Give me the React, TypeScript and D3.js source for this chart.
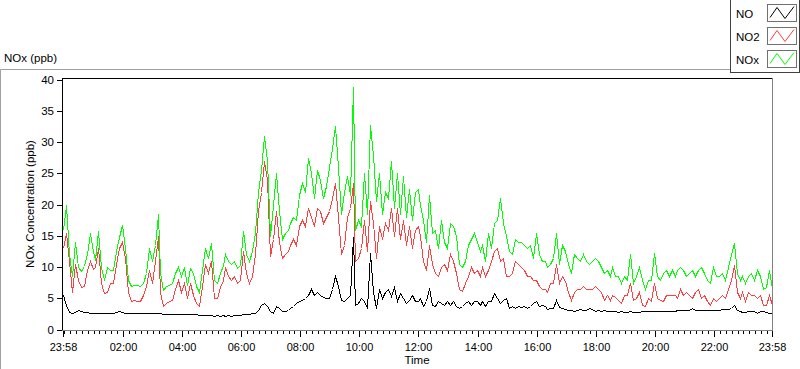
import * as d3 from "d3";

// readings every 6 minutes, starting 23:58 (one row per hour)
const SAMPLE_MINUTES = 6;

const noxValues = [
  16, 20, 12, 8.5, 14, 10, 9.3, 10.2, 12, 15.5,
  12.5, 11.2, 15.8, 10, 8, 10, 9.5, 9.5, 12.5, 14.8,
  16.8, 13, 8, 7, 7.2, 7.2, 7, 7.5, 9, 13,
  11, 13.5, 18.5, 9, 6.3, 7, 7.2, 7.5, 9, 10,
  8.5, 10, 7.2, 9.8, 9, 7, 6, 9.5, 13, 11.5,
  13.8, 8, 7.5, 9, 10.3, 12, 11, 10.5, 11, 9.8,
  10.3, 15.8, 12, 11, 12.5, 15.5, 22, 25.5, 31, 27,
  15, 20, 25, 19, 14.5, 15.5, 16, 17, 18, 17.5,
  21.5, 23.5, 22, 27.5, 25, 21, 25.5, 24, 21, 23,
  26, 29, 32.5, 26, 18.5, 22, 24.5, 21.5, 38.8, 16,
  17.5, 16.5, 25, 18.5, 32.7, 28, 20.5, 25, 18.5, 22,
  21, 27, 19.5, 25, 18.5, 24.5, 18, 22.5, 17.5, 22,
  22.5, 20, 17.5, 14, 21.5, 15.5, 16, 13, 17.5, 14,
  13, 17, 16.5, 15, 10.5, 10, 11, 13.5, 14.5, 15.5,
  14, 12.5, 13.5, 11, 15.5, 13, 17, 17.5, 21, 17,
  15, 12.5, 12, 14.5, 14, 14, 13.5, 13, 13.5, 11.5,
  15.5, 12, 11, 11, 10, 10.5, 11.5, 15.5, 10.5, 13.5,
  12.5, 10.5, 9, 12, 11.5, 11, 12, 11, 10.5, 11,
  11.5, 11, 10, 9, 9.5, 8.5, 10, 8.5, 8.5, 7.5,
  8.5, 8, 12, 7.5, 8.5, 10, 8, 6.5, 8, 8,
  12.3, 8.5, 8, 9, 9.5, 8.5, 9.5, 8.5, 9.5, 10,
  9.5, 8.5, 9, 9.5, 8.5, 9.5, 10, 9, 8, 7.5,
  10, 8.5, 8.5, 9, 8, 10, 12, 13.8, 9, 8,
  8.5, 7.5, 8.5, 9, 8, 9.5, 8.5, 6.5, 6.8, 9.5,
  6.5,
];

const no2Values = [
  13, 15.5, 11, 6, 10.5, 8, 6.8, 7, 9.5, 11,
  9.7, 10, 13, 7.5, 5.8, 6, 7.5, 7.5, 10.5, 13,
  14, 11.5, 6, 4.6, 4.8, 4.6, 4.6, 5.5, 7, 9.5,
  7.5, 11, 15, 6, 3.8, 4.2, 4.5, 4.8, 6.5, 8,
  6, 7.5, 5, 7.5, 5.5, 4.3, 3.8, 7, 10.5, 9,
  11, 5, 5, 6.8, 8, 10, 8.5, 8, 8.5, 7.5,
  8, 12.5, 9, 7.5, 8.5, 12, 19, 22, 27, 24,
  11.8, 14.5, 19, 14, 11.5, 12, 12.5, 13.5, 14.5, 13.5,
  16.5, 17.5, 16.5, 19.5, 18, 16.5, 19.5, 19, 17, 18,
  19, 21, 23.5, 18, 12, 13.5, 18, 19.5, 23.5, 11,
  11.5, 13, 17.5, 12.5, 20.5, 17, 11.5, 16.5, 14.5, 17,
  16, 19.5, 15, 19.5, 14.5, 17.5, 13.5, 16.5, 13, 16,
  16.5, 15, 11, 9.5, 13.5, 10.5, 9, 8.5, 10, 10.5,
  9.5, 12, 11, 9, 6.5, 6.2, 7.5, 8.5, 10, 9,
  9.5, 8.5, 10, 8.5, 9.5, 11, 12.5, 13, 11, 11.5,
  8.5, 8.5, 9, 11, 10.5, 10, 9.5, 8.5, 8.5, 8,
  8, 7, 6.5, 6.5, 6, 7.5, 7.5, 10.5, 7.5, 8.5,
  7.8, 6, 4.8, 6, 6.5, 6.5, 7, 6.5, 6.5, 6.5,
  7, 6.5, 6, 4.8, 5.5, 4.8, 5.5, 5.2, 4.8, 4.2,
  5.5, 5.5, 7.5, 4.8, 5, 6, 4, 3.8, 5, 4.5,
  7.5, 5, 4.8, 4.5, 5.5, 5.5, 5.5, 5.5, 5, 6.5,
  5.5, 6, 5.5, 5, 6, 6.5, 5, 5.5, 4.5, 4,
  5, 4.5, 5, 5.5, 5, 6.5, 8, 10.3, 6, 5,
  6, 4.5, 6, 5.5, 5.5, 5, 5.5, 4, 4, 5.5,
  4,
];

const noValues = [
  5.5, 4, 2.8, 2.7, 2.8, 3.1, 3, 2.8, 2.8, 2.7,
  2.7, 2.6, 2.7, 2.7, 2.6, 2.6, 2.7, 2.7, 2.8, 3.0,
  2.8, 2.6, 2.6, 2.6, 2.6, 2.6, 2.6, 2.6, 2.7, 2.6,
  2.6, 2.7, 2.7, 2.6, 2.5, 2.5, 2.5, 2.5, 2.5, 2.5,
  2.5, 2.5, 2.4, 2.4, 2.4, 2.4, 2.3, 2.3, 2.3, 2.3,
  2.3, 2.2, 2.3, 2.2, 2.3, 2.2, 2.3, 2.2, 2.3, 2.3,
  2.3, 2.4, 2.4, 2.5, 2.6, 2.6, 3.2, 4, 4.2, 3.8,
  3, 2.6, 3.8, 3.5, 2.9, 3, 3.2, 3.5, 3.8, 4.2,
  4.5, 4.8, 5, 5.5, 6.5, 5.5, 6, 5.5, 5.2, 5,
  5, 6.5, 8.5, 7, 4.8, 4.5, 5, 5.5, 14.8, 4,
  4.2, 5, 4.5, 3.5, 12.2, 6, 3.5, 6.5, 5, 6,
  6.5, 5.3, 6.8, 4.5, 5.8, 5, 4.3, 4.8, 5.5, 4.5,
  4.5, 5, 3.8, 4.5, 6.7, 4, 3.8, 4.5, 4.2, 4,
  4.5, 4, 4.5, 3.8, 3.5, 3.7, 4.2, 4.5, 4, 4.5,
  4.5, 4, 4.5, 3.8, 4.5, 4.5, 5.8, 5, 4.2, 4.8,
  5, 3.5, 3.8, 3.5, 3.8, 3.6, 3.8, 3.5, 3.8, 4.2,
  4.5, 3.8, 3.9, 3.8, 3.3, 3.4, 3.5, 4.7, 3.6, 3.5,
  3.3, 3.2, 3.1, 3.0, 3.2, 3.3, 3.1, 3.2, 3.4, 3.3,
  3.0, 3.1, 3.0, 3.1, 2.9, 2.9, 3.0, 2.9, 2.8, 2.9,
  2.8, 2.8, 2.9, 2.8, 2.8, 2.8, 2.9, 2.9, 2.9, 2.9,
  2.9, 3.0, 3.0, 3.0, 3.0, 2.9, 3.0, 3.0, 3.1, 3.1,
  3.1, 3.1, 3.2, 3.4, 3.2, 3.1, 3.2, 3.2, 3.2, 3.2,
  3.2, 3.2, 3.2, 3.3, 3.3, 3.3, 3.4, 3.9, 3.1, 2.9,
  2.8, 2.8, 2.9, 2.9, 3.0, 2.7, 3.0, 2.9, 2.8, 2.7,
  2.6,
];

const seriesNames = ["NO", "NO2", "NOx"];
const seriesColors = ["#000000", "#ff4040", "#00ff00"];
const timeLabels = [
  "23:58", "02:00", "04:00", "06:00", "08:00", "10:00", "12:00",
  "14:00", "16:00", "18:00", "20:00", "22:00", "23:58",
];
const yTicks = [0, 5, 10, 15, 20, 25, 30, 35, 40];

const FONT = "'Liberation Sans', Arial, sans-serif";
const START = 23 * 60 + 58; // clock minute of the first sample

// minutes after the start for a "hh:mm" label
function offsetOf(label: string, last: boolean) {
  if (last) return 24 * 60;
  const [h, m] = label.split(":").map(Number);
  return (h * 60 + m - START + 1440) % 1440;
}

export default function App() {
  const x = d3.scaleLinear().domain([0, 24 * 60]).range([63, 772]);
  const y = d3.scaleLinear().domain([0, 40]).range([329.5, 79.5]);

  const line = d3
    .line<number>()
    .x((_, i) => Math.round(x(i * SAMPLE_MINUTES)) + 0.5)
    .y((d) => Math.round(y(d)) + 0.5);

  const series = [noValues, no2Values, noxValues];

  // minor ticks every 12 clock minutes, skipping the labelled ones
  const minor: number[] = [];
  for (let m = 0; m < 1440; m += 12) {
    if (m % 120 === 0 && m !== 0) continue;
    minor.push((m - START + 1440) % 1440);
  }

  return (
    <div style={{ position: "fixed", left: 0, top: 0, width: 800, height: 369, background: "#fff" }}>
      <svg width={800} height={369} style={{ display: "block" }} fontFamily={FONT}>
        <rect width={800} height={369} fill="#fff" />

        {/* outer panel */}
        <path d="M0.5,369 V69.5 H731" fill="none" stroke="#a0a0a0" />
        <text x={4} y={62} fontSize={11.5} fill="#000">NOx (ppb)</text>

        {/* plot lines */}
        {series.map((vals, k) => (
          <path
            key={seriesNames[k]}
            d={line(vals) ?? ""}
            fill="none"
            stroke={seriesColors[k]}
            strokeWidth={1}
            shapeRendering="crispEdges"
          />
        ))}

        {/* frame */}
        <path d="M62.5,330 V78.5 H772" fill="none" stroke="#000" shapeRendering="crispEdges" />
        <path d="M62,330.5 H772.5 V78" fill="none" stroke="#808080" shapeRendering="crispEdges" />

        {/* y axis */}
        {yTicks.map((v) => (
          <g key={v}>
            <line x1={57} x2={62} y1={Math.round(y(v)) + 0.5} y2={Math.round(y(v)) + 0.5} stroke="#000" />
            <text x={54} y={y(v) + 4} fontSize={11.5} textAnchor="end" fill="#000">{v}</text>
          </g>
        ))}
        <text
          transform="translate(34,204) rotate(-90)"
          fontSize={11.5}
          textAnchor="middle"
          fill="#000"
        >
          NOx Concentration (ppb)
        </text>

        {/* x axis */}
        {minor.map((m) => (
          <line key={m} x1={Math.round(x(m)) + 0.5} x2={Math.round(x(m)) + 0.5} y1={331} y2={334} stroke="#000" />
        ))}
        {timeLabels.map((lab, i) => {
          const px = Math.round(x(offsetOf(lab, i === timeLabels.length - 1))) + 0.5;
          return (
            <g key={i}>
              <line x1={px} x2={px} y1={331} y2={337} stroke="#000" />
              <text x={px} y={351} fontSize={11} textAnchor="middle" fill="#000">{lab}</text>
            </g>
          );
        })}
        <text x={417} y={364} fontSize={11.5} textAnchor="middle" fill="#000">Time</text>

        {/* legend */}
        <rect x={730.5} y={-1} width={69} height={73.5} fill="#fff" stroke="#404040" />
        {seriesNames.map((name, k) => {
          const top = 4.5 + k * 23;
          return (
            <g key={name}>
              <text x={736} y={top + 13.5} fontSize={11.5} fill="#000">{name}</text>
              <rect x={767.5} y={top} width={29} height={17} fill="#fff" stroke="#707070" />
              <polyline
                points={`770,${top + 13} 777,${top + 3} 785,${top + 14} 794,${top + 2}`}
                fill="none"
                stroke={seriesColors[k]}
              />
            </g>
          );
        })}
      </svg>
    </div>
  );
}
